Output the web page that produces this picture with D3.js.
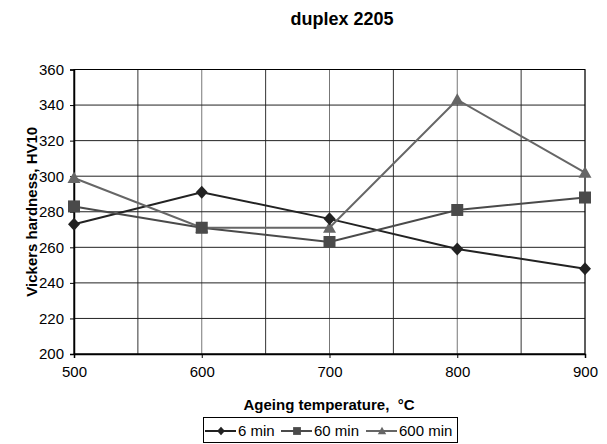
<!DOCTYPE html>
<html><head><meta charset="utf-8">
<script src="https://cdn.jsdelivr.net/npm/d3@7"></script>
<style>body{margin:0;background:#fff;font-family:"Liberation Sans",Arial,sans-serif;} text{white-space:pre;}</style>
</head><body><svg id="c" width="607" height="444"></svg>
<script>
const temps = [500, 600, 700, 800, 900];
const min6 = [273, 291, 276, 259, 248];
const min60 = [283, 271, 263, 281, 288];
const min600 = [299, 271, 271, 343, 302];
const yTicks = [200, 220, 240, 260, 280, 300, 320, 340, 360];
const xTicks = [500, 600, 700, 800, 900];
const seriesNames = ["6 min", "60 min", "600 min"];

const FF = "Liberation Sans, Arial, sans-serif";
const svg = d3.select("#c");
const L = 74, R = 585, T = 69.5, B = 354;
const x = d3.scaleLinear().domain([500, 900]).range([L, R]);
const y = d3.scaleLinear().domain([200, 360]).range([B, T]);

// marker shapes (scale factor k)
function shapePath(kind, k) {
  const p = d3.path();
  if (kind === "diamond") {
    p.moveTo(0, -6.5 * k); p.lineTo(6 * k, 0); p.lineTo(0, 6.5 * k); p.lineTo(-6 * k, 0); p.closePath();
  } else if (kind === "square") {
    p.rect(-6 * k, -6 * k, 12 * k, 12 * k);
  } else {
    p.moveTo(0, -6.5 * k); p.lineTo(6.5 * k, 5 * k); p.lineTo(-6.5 * k, 5 * k); p.closePath();
  }
  return p.toString();
}

// grid
const g = svg.append("g");
d3.range(500, 901, 50).forEach(v => {
  g.append("line").attr("x1", x(v)).attr("x2", x(v)).attr("y1", T).attr("y2", B)
   .attr("stroke", v % 100 === 0 ? "#777" : "#333").attr("stroke-width", 1);
});
yTicks.forEach(v => {
  g.append("line").attr("x1", L).attr("x2", R).attr("y1", y(v)).attr("y2", y(v))
   .attr("stroke", "#222").attr("stroke-width", 1);
});
svg.append("rect").attr("x", L).attr("y", T).attr("width", R - L).attr("height", B - T)
  .attr("fill", "none").attr("stroke", "#000").attr("stroke-width", 1);

// axes
const ax = svg.append("g").attr("transform", `translate(0,${B})`)
  .call(d3.axisBottom(x).tickValues(xTicks).tickSize(4).tickPadding(8).tickFormat(d3.format("d")));
const ay = svg.append("g").attr("transform", `translate(${L},0)`)
  .call(d3.axisLeft(y).tickValues(yTicks).tickSize(4).tickPadding(6));
[ax, ay].forEach(a => {
  a.select(".domain").attr("stroke", "#000").attr("stroke-width", 1.5);
  a.selectAll("text").attr("font-family", FF).attr("font-size", 15).attr("fill", "#000");
  a.selectAll(".tick line").attr("stroke", "#000");
});

// series
const series = [
  {name: seriesNames[0], vals: min6, color: "#222", shape: "diamond"},
  {name: seriesNames[1], vals: min60, color: "#4a4a4a", shape: "square"},
  {name: seriesNames[2], vals: min600, color: "#666", shape: "triangle"}
];
const line = d3.line().x((d, i) => x(temps[i])).y(d => y(d));
series.forEach(s => {
  svg.append("path").datum(s.vals).attr("d", line).attr("fill", "none")
    .attr("stroke", s.color).attr("stroke-width", 2);
});
[series[2], series[1], series[0]].forEach(s => {
  svg.selectAll(null).data(s.vals).enter().append("path")
    .attr("d", shapePath(s.shape, 1))
    .attr("transform", (d, i) => `translate(${x(temps[i])},${y(d)})`)
    .attr("fill", s.color);
});

// title and labels
svg.append("text").attr("x", 342).attr("y", 25).attr("text-anchor", "middle")
  .attr("font-size", 18).attr("font-weight", "bold").attr("font-family", FF).text("duplex 2205");
svg.append("text").attr("transform", `translate(37,${(T + B) / 2}) rotate(-90)`)
  .attr("text-anchor", "middle").attr("font-size", 15).attr("font-weight", "bold").attr("font-family", FF)
  .text("Vickers hardness, HV10");
svg.append("text").attr("x", 329).attr("y", 410).attr("text-anchor", "middle")
  .attr("font-size", 15).attr("font-weight", "bold").attr("font-family", FF).attr("xml:space", "preserve")
  .text("Ageing temperature,  °C");

// legend
const lg = svg.append("g");
lg.append("rect").attr("x", 203.5).attr("y", 417.5).attr("width", 254).attr("height", 25)
  .attr("fill", "#fff").attr("stroke", "#000").attr("stroke-width", 1);
const lx = [205, 281, 366];
series.forEach((s, i) => {
  const x0 = lx[i];
  lg.append("line").attr("x1", x0).attr("x2", x0 + 31).attr("y1", 431).attr("y2", 431)
    .attr("stroke", s.color).attr("stroke-width", 2);
  lg.append("path").attr("d", shapePath(s.shape, 0.65))
    .attr("transform", `translate(${x0 + 16},431)`).attr("fill", s.color);
  lg.append("text").attr("x", x0 + 33).attr("y", 436).attr("font-size", 15).attr("font-family", FF).text(s.name);
});
</script></body></html>
